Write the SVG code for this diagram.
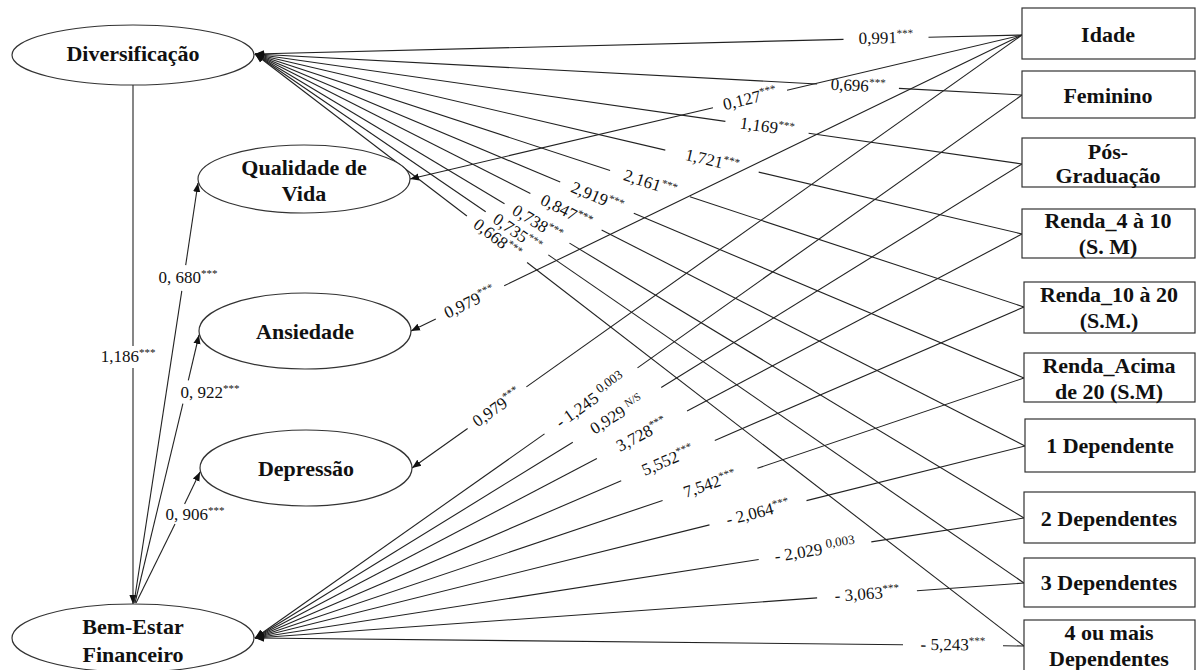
<svg xmlns="http://www.w3.org/2000/svg" width="1196" height="670" viewBox="0 0 1196 670">
<style>
.nd{fill:#fff;stroke:#333;stroke-width:1.2}
.nt{font-family:"Liberation Serif",serif;font-weight:bold;font-size:22px;text-anchor:middle;fill:#111}
.cn line{stroke:#222;stroke-width:1.1}
.ar{marker-end:url(#ah)}
.lbl{font-family:"Liberation Serif",serif;font-size:17px;text-anchor:middle;fill:#111}
.sup{font-size:11px}
.sup2{font-size:13px}
</style>
<defs>
<marker id="ah" viewBox="0 0 10 10" refX="10" refY="5" markerWidth="9" markerHeight="9" markerUnits="userSpaceOnUse" orient="auto"><path d="M0,1 L10,5 L0,9 z" fill="#111"/></marker>
</defs>
<rect width="1196" height="670" fill="#fff"/>

<g id="connectors" class="cn">
<line x1="1022" y1="35" x2="928.5" y2="37.3"/><line class="ar" x1="843.5" y1="39.4" x2="255" y2="54"/>
<line x1="1022" y1="95" x2="898.9" y2="88.4"/><line class="ar" x1="817.1" y1="84" x2="255" y2="54"/>
<line x1="1022" y1="164" x2="808.6" y2="133.3"/><line class="ar" x1="725.4" y1="121.4" x2="255" y2="54"/>
<line x1="1022" y1="234" x2="758.7" y2="172.1"/><line class="ar" x1="665.3" y1="150.1" x2="255" y2="54"/>
<line x1="1024" y1="307" x2="689.9" y2="196.8"/><line class="ar" x1="610.1" y1="170.5" x2="255" y2="54"/>
<line x1="1024" y1="378" x2="633.8" y2="213.2"/><line class="ar" x1="560.2" y1="182.1" x2="255" y2="54"/>
<line x1="1025" y1="446" x2="601.6" y2="229.9"/><line class="ar" x1="530.4" y1="193.5" x2="255" y2="54"/>
<line x1="1024" y1="518" x2="569.5" y2="243.1"/><line class="ar" x1="504.5" y1="203.7" x2="255" y2="54"/>
<line x1="1024" y1="583" x2="548.3" y2="254.9"/><line class="ar" x1="485.7" y1="211.7" x2="255" y2="54"/>
<line x1="1024" y1="646" x2="527.1" y2="262.5"/><line class="ar" x1="466.9" y1="216" x2="255" y2="54"/>
<line x1="1022" y1="35" x2="787" y2="90.3"/><line class="ar" x1="713" y1="107.7" x2="410" y2="179"/>
<line x1="1022" y1="35" x2="504.2" y2="285.8"/><line class="ar" x1="435.8" y1="319" x2="411" y2="331"/>
<line x1="1022" y1="35" x2="526.4" y2="386.9"/><line class="ar" x1="467.6" y1="428.5" x2="412" y2="468"/>
<line x1="1022" y1="95" x2="637.5" y2="367.9"/><line class="ar" x1="544.5" y1="433.9" x2="255" y2="638"/>
<line x1="1022" y1="164" x2="661.2" y2="387.5"/><line class="ar" x1="572.8" y1="442.3" x2="255" y2="638"/>
<line x1="1022" y1="234" x2="687.1" y2="410.9"/><line class="ar" x1="596.9" y1="458.5" x2="255" y2="638"/>
<line x1="1024" y1="307" x2="714.8" y2="440.4"/><line class="ar" x1="621.2" y1="480.8" x2="255" y2="638"/>
<line x1="1024" y1="378" x2="757.4" y2="468.3"/><line class="ar" x1="662.6" y1="500.5" x2="255" y2="638"/>
<line x1="1025" y1="446" x2="806.5" y2="500.6"/><line class="ar" x1="709.5" y1="524.9" x2="255" y2="638"/>
<line x1="1024" y1="518" x2="871.3" y2="541.9"/><line class="ar" x1="758.7" y1="559.5" x2="255" y2="638"/>
<line x1="1024" y1="583" x2="916.9" y2="590.7"/><line class="ar" x1="817.1" y1="597.9" x2="255" y2="638"/>
<line x1="1024" y1="646" x2="1003" y2="645.8"/><line class="ar" x1="903" y1="644.7" x2="255" y2="638"/>
<line x1="133" y1="85" x2="133" y2="346"/><line class="ar" x1="133" y1="368" x2="133" y2="604"/>
<line x1="134" y1="603" x2="181.8" y2="290.9"/><line class="ar" x1="185.7" y1="265.1" x2="198" y2="183"/>
<line x1="135" y1="603" x2="182.9" y2="403.7"/><line class="ar" x1="188.3" y1="380.3" x2="199" y2="335"/>
<line x1="136" y1="603" x2="175" y2="523.9"/><line class="ar" x1="184.6" y1="504.1" x2="200" y2="472"/>

<text class="lbl" x="886" y="43.4" transform="rotate(-1.42 886 38.4)">0,991<tspan class="sup" dy="-6">***</tspan></text>
<text class="lbl" x="858" y="91.2" transform="rotate(3.07 858 86.2)">0,696<tspan class="sup" dy="-6">***</tspan></text>
<text class="lbl" x="767" y="132.3" transform="rotate(8.18 767 127.3)">1,169<tspan class="sup" dy="-6">***</tspan></text>
<text class="lbl" x="712" y="166.1" transform="rotate(13.24 712 161.1)">1,721<tspan class="sup" dy="-6">***</tspan></text>
<text class="lbl" x="650" y="188.6" transform="rotate(18.25 650 183.6)">2,161<tspan class="sup" dy="-6">***</tspan></text>
<text class="lbl" x="597" y="202.6" transform="rotate(22.9 597 197.6)">2,919<tspan class="sup" dy="-6">***</tspan></text>
<text class="lbl" x="566" y="216.7" transform="rotate(27.04 566 211.7)">0,847<tspan class="sup" dy="-6">***</tspan></text>
<text class="lbl" x="537" y="228.4" transform="rotate(31.17 537 223.4)">0,738<tspan class="sup" dy="-6">***</tspan></text>
<text class="lbl" x="517" y="238.3" transform="rotate(34.59 517 233.3)">0,735<tspan class="sup" dy="-6">***</tspan></text>
<text class="lbl" x="497" y="244.2" transform="rotate(37.66 497 239.2)">0,668<tspan class="sup" dy="-6">***</tspan></text>

<text class="lbl" x="750" y="104" transform="rotate(-13.24 750 99)">0,127<tspan class="sup" dy="-6">***</tspan></text>
<text class="lbl" x="470" y="307.4" transform="rotate(-25.85 470 302.4)">0,979<tspan class="sup" dy="-6">***</tspan></text>
<text class="lbl" x="497" y="412.7" transform="rotate(-35.37 497 407.7)">0,979<tspan class="sup" dy="-6">***</tspan></text>

<text class="lbl" x="591" y="405.9" transform="rotate(-35.36 591 400.9)">- 1,245<tspan class="sup2" dx="4" dy="-6">0,003</tspan></text>
<text class="lbl" x="617" y="419.9" transform="rotate(-31.78 617 414.9)">0,929<tspan class="sup" dx="4" dy="-6">N/S</tspan></text>
<text class="lbl" x="642" y="439.7" transform="rotate(-27.84 642 434.7)">3,728<tspan class="sup" dy="-6">***</tspan></text>
<text class="lbl" x="668" y="465.6" transform="rotate(-23.34 668 460.6)">5,552<tspan class="sup" dy="-6">***</tspan></text>
<text class="lbl" x="710" y="489.4" transform="rotate(-18.73 710 484.4)">7,542<tspan class="sup" dy="-6">***</tspan></text>
<text class="lbl" x="758" y="517.8" transform="rotate(-14.04 758 512.8)">- 2,064<tspan class="sup" dy="-6">***</tspan></text>
<text class="lbl" x="815" y="555.7" transform="rotate(-8.89 815 550.7)">- 2,029<tspan class="sup2" dx="4" dy="-6">0,003</tspan></text>
<text class="lbl" x="867" y="599.3" transform="rotate(-4.1 867 594.3)">- 3,063<tspan class="sup" dy="-6">***</tspan></text>
<text class="lbl" x="953" y="650.3" transform="rotate(0.6 953 645.3)">- 5,243<tspan class="sup" dy="-6">***</tspan></text>

<text class="lbl" x="128" y="362">1,186<tspan class="sup" dy="-6">***</tspan></text>
<text class="lbl" x="188" y="283">0, 680<tspan class="sup" dy="-6">***</tspan></text>
<text class="lbl" x="210" y="398">0, 922<tspan class="sup" dy="-6">***</tspan></text>
<text class="lbl" x="195" y="520">0, 906<tspan class="sup" dy="-6">***</tspan></text>
</g>

<g id="div"><ellipse class="nd" cx="133" cy="55" rx="121" ry="30"/><text class="nt" x="133" y="61">Diversificação</text></g>
<g id="qdv"><ellipse class="nd" cx="304" cy="179" rx="106" ry="34"/><text class="nt" x="304" y="175">Qualidade de</text><text class="nt" x="304" y="201">Vida</text></g>
<g id="ans"><ellipse class="nd" cx="305" cy="331" rx="106" ry="38"/><text class="nt" x="305" y="339">Ansiedade</text></g>
<g id="dep"><ellipse class="nd" cx="306" cy="468" rx="106" ry="38"/><text class="nt" x="306" y="476">Depressão</text></g>
<g id="bef"><ellipse class="nd" cx="133" cy="638" rx="121" ry="34"/><text class="nt" x="133" y="634">Bem-Estar</text><text class="nt" x="133" y="662">Financeiro</text></g>

<g id="idade"><rect class="nd" x="1022" y="8" width="173" height="51"/><text class="nt" x="1108" y="42">Idade</text></g>
<g id="feminino"><rect class="nd" x="1022" y="71" width="173" height="47"/><text class="nt" x="1108" y="103">Feminino</text></g>
<g id="pos"><rect class="nd" x="1022" y="138" width="173" height="49"/><text class="nt" x="1108" y="159">Pós-</text><text class="nt" x="1108" y="183">Graduação</text></g>
<g id="renda4"><rect class="nd" x="1022" y="209" width="173" height="49"/><text class="nt" x="1108" y="228">Renda_4 à 10</text><text class="nt" x="1108" y="254">(S. M)</text></g>
<g id="renda10"><rect class="nd" x="1024" y="282" width="171" height="51"/><text class="nt" x="1109" y="302">Renda_10 à 20</text><text class="nt" x="1109" y="328">(S.M.)</text></g>
<g id="rendaacima"><rect class="nd" x="1024" y="353" width="171" height="49"/><text class="nt" x="1109" y="373">Renda_Acima</text><text class="nt" x="1109" y="399">de 20 (S.M)</text></g>
<g id="dep1"><rect class="nd" x="1025" y="419" width="170" height="53"/><text class="nt" x="1110" y="453">1 Dependente</text></g>
<g id="dep2"><rect class="nd" x="1024" y="492" width="171" height="51"/><text class="nt" x="1109" y="526">2 Dependentes</text></g>
<g id="dep3"><rect class="nd" x="1024" y="558" width="171" height="49"/><text class="nt" x="1109" y="590">3 Dependentes</text></g>
<g id="dep4"><rect class="nd" x="1024" y="620" width="171" height="60"/><text class="nt" x="1109" y="640">4 ou mais</text><text class="nt" x="1109" y="666">Dependentes</text></g>
</svg>
